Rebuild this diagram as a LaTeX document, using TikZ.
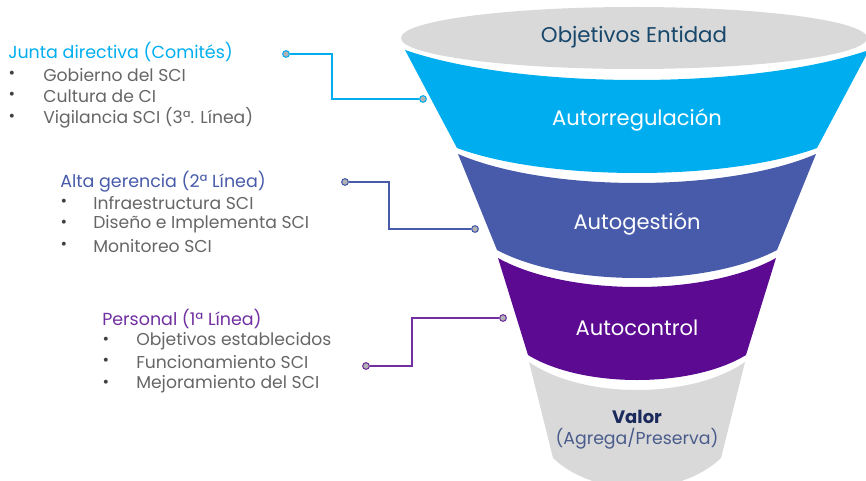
\documentclass[tikz,border=0pt]{standalone}
\usepackage{fontspec}
\setmainfont{Poppins}
\definecolor{autoreg}{HTML}{00AEEF}
\definecolor{autogest}{HTML}{485BAA}
\definecolor{autocont}{HTML}{5B0A91}
\definecolor{lila}{HTML}{7030A0}
\definecolor{fondo}{HTML}{D9D9D9}
\definecolor{gristxt}{HTML}{666666}
\definecolor{tinta}{HTML}{17476B}
\definecolor{marino}{HTML}{1B2A5C}
\definecolor{pizarra}{HTML}{4A5C8C}
% franja del embudo: color, y sup, flecha sup, semiancho sup, y inf, flecha inf, semiancho inf
\newcommand{\franja}[7]{%
  \fill[#1] ({637-#4},-#2) .. controls ({637-#4/2},{-#2-4/3*#3}) and ({637+#4/2},{-#2-4/3*#3}) .. ({637+#4},-#2)
    -- ({637+#7},-#5) .. controls ({637+#7/2},{-#5-4/3*#6}) and ({637-#7/2},{-#5-4/3*#6}) .. ({637-#7},-#5) -- cycle;}

\begin{document}
\begin{tikzpicture}[x=0.75pt,y=0.75pt,
  dot/.style={circle,draw=#1,fill=gray!60,line width=0.8pt,inner sep=0pt,minimum size=5pt},
  tramo/.style={draw=#1,line width=1.4pt},
  titulo/.style={anchor=west,inner sep=0pt,font=\fontsize{13.1}{15}\selectfont},
  item/.style={anchor=west,inner sep=0pt,font=\fontsize{12.9}{15}\selectfont,text=gristxt},
  vineta/.style={inner sep=0pt,font=\fontsize{12}{14}\selectfont,text=black!75},
  etiqueta/.style={font=\fontsize{15.8}{18}\selectfont,text=white}]
\useasboundingbox (0,0) rectangle (866,-481);

% embudo
\fill[fondo] (634,-38) ellipse [x radius=233, y radius=31];
\franja{autoreg}{50}{30}{232}{148}{25}{180}
\franja{autogest}{154}{29}{179}{250}{28}{140}
\franja{autocont}{258}{29}{139}{355}{25}{109}
\franja{fondo}{362}{28}{108}{458}{30}{84}

\node[font=\fontsize{16}{18}\selectfont,text=tinta] (obj) at (634,-37) {Objetivos Entidad};
\node[etiqueta] (reg) at (637,-120) {Autorregulación};
\node[etiqueta] (gest) at (637,-224) {Autogestión};
\node[etiqueta] (cont) at (637,-328) {Autocontrol};
\node[font=\bfseries\fontsize{13.5}{16}\selectfont,text=marino] (valor) at (637,-417) {Valor};
\node[font=\fontsize{13}{16}\selectfont,text=pizarra] (agrega) at (637,-439) {(Agrega/Preserva)};

% junta directiva
\node[titulo,text=autoreg] (junta) at (8,-52) {Junta directiva (Comités)};
\foreach \y/\t in {75/Gobierno del SCI,96/Cultura de CI,118/{Vigilancia SCI (3ª. Línea)}} {
  \node[vineta] (jb\y) at (12,-\y) {\textbullet};
  \node[item] (jt\y) at (43,-\y) {\t};
}
\node[dot=autoreg] (j1) at (286,-54) {};
\node[dot=autoreg] (j2) at (423,-99) {};
\draw[tramo=autoreg] (j1) -- ++(46,0) |- (j2);

% alta gerencia
\node[titulo,text=autogest] (alta) at (60,-182) {Alta gerencia (2ª Línea)};
\foreach \y/\t in {203/Infraestructura SCI,224/Diseño e Implementa SCI,246/Monitoreo SCI} {
  \node[vineta] (ab\y) at (64,-\y) {\textbullet};
  \node[item] (at\y) at (93,-\y) {\t};
}
\node[dot=autogest] (a1) at (345,-182) {};
\node[dot=autogest] (a2) at (475,-229) {};
\draw[tramo=autogest] (a1) -- ++(44,0) |- (a2);

% personal
\node[titulo,text=lila] (pers) at (102,-319) {Personal (1ª Línea)};
\foreach \y/\t in {341/Objetivos establecidos,362/Funcionamiento SCI,384/Mejoramiento del SCI} {
  \node[vineta] (pb\y) at (106,-\y) {\textbullet};
  \node[item] (pt\y) at (136,-\y) {\t};
}
\node[dot=lila] (p1) at (366,-366) {};
\node[dot=lila] (p2) at (503,-318) {};
\draw[tramo=lila] (p1) -- ++(46,0) |- (p2);
\end{tikzpicture}
\end{document}
